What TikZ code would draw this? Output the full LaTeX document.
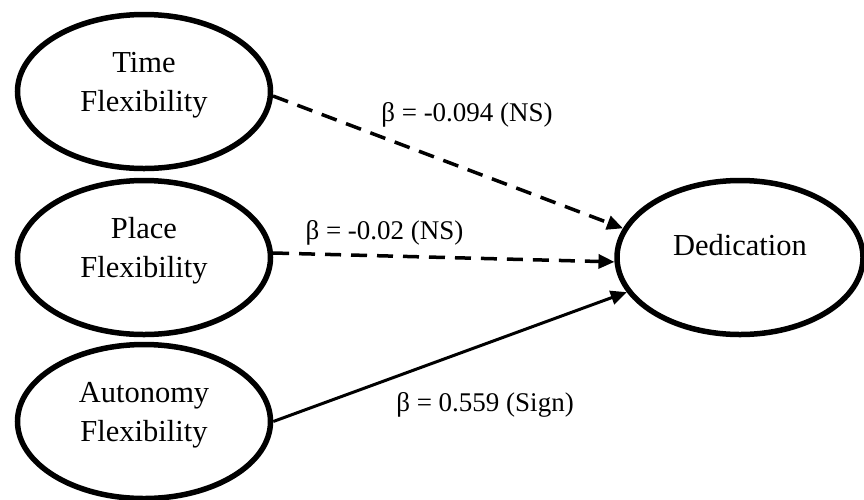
\documentclass[tikz,border=0pt]{standalone}
\usepackage{fontspec}
\setmainfont{Liberation Serif}
\usetikzlibrary{shapes.geometric,positioning,arrows.meta}

\begin{document}
\begin{tikzpicture}[x=1pt,y=-1pt,on grid,
	factor/.style={ellipse,draw,line width=5.5pt,minimum width=253pt,minimum height=154pt,inner sep=0pt,align=center,font=\fontsize{30.5}{39}\selectfont,text depth=20pt},
	coef/.style={font=\fontsize{27}{30}\selectfont},
	nspath/.style={line width=3.5pt,dash pattern=on 16pt off 10pt},
	sigpath/.style={line width=3pt},
	>={Triangle[length=16pt,width=14pt]}]

	\useasboundingbox (0,0) rectangle (864,499);

	\node[factor] (time) at (144,91.5) {Time\\Flexibility};
	\node[factor] (place) [below=166pt of time] {Place\\Flexibility};
	\node[factor] (auto) [below=164pt of place] {Autonomy\\Flexibility};
	\node[factor,minimum width=246pt,text depth=26pt] (ded) [right=596pt of place] {Dedication};

	\node[coef] (btime) at (467,115) {β = -0.094 (NS)};
	\node[coef] (bplace) at (384.5,233) {β = -0.02 (NS)};
	\node[coef] (bauto) at (485,405) {β = 0.559 (Sign)};

	\path[->]
		(time.-2.5) edge[nspath] (ded.166)
		(place.2) edge[nspath] (ded.182.5)
		(auto.east) edge[sigpath] (ded.197);
\end{tikzpicture}
\end{document}
